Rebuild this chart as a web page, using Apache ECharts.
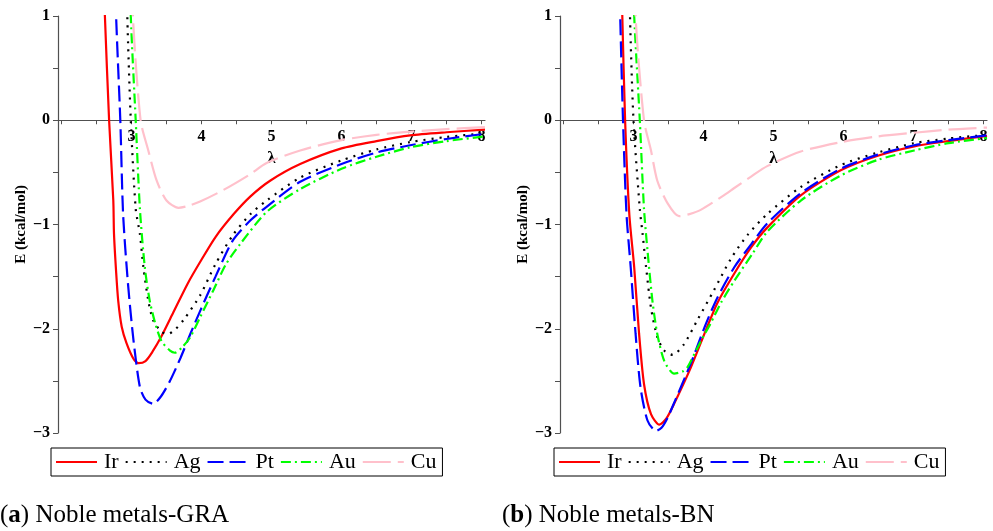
<!DOCTYPE html>
<html>
<head>
<meta charset="utf-8">
<script src="https://cdn.jsdelivr.net/npm/echarts@6/dist/echarts.min.js"></script>
<style>
  html, body { margin: 0; padding: 0; background: #fff; }
  #chart { width: 993px; height: 531px; }
</style>
</head>
<body>
<div id="chart"></div>
<script>
// metal names (legend order)
const metals = ['Ir', 'Ag', 'Pt', 'Au', 'Cu']

// axis ticks / labels
const xTicks = [2, 2.5, 3, 3.5, 4, 4.5, 5, 5.5, 6, 6.5, 7, 7.5, 8]
const xLabels = [3, 4, 5, 6, 7, 8]

// (a) Noble metals-GRA, [lambda, E]
const graIr = [[2.59, 1.6], [2.62, 1], [2.68, 0], [2.74, -0.77], [2.75, -1.09], [2.78, -1.45], [2.81, -1.73], [2.86, -1.98], [2.93, -2.14], [3.03, -2.29], [3.1, -2.33], [3.2, -2.31], [3.3, -2.22], [3.43, -2.07], [3.6, -1.84], [3.8, -1.57], [3.98, -1.36], [4.2, -1.12], [4.46, -0.9], [4.7, -0.73], [4.98, -0.58], [5.41, -0.42], [6.0, -0.27], [6.5, -0.2], [6.98, -0.145], [7.5, -0.115], [8.05, -0.09]]
const graAg = [[2.93, 1.6], [2.94, 1], [2.99, 0], [3.06, -0.85], [3.12, -1.09], [3.17, -1.41], [3.24, -1.73], [3.31, -1.92], [3.43, -2.03], [3.52, -2.05], [3.62, -2.01], [3.75, -1.91], [3.98, -1.68], [4.2, -1.38], [4.45, -1.1], [4.7, -0.9], [4.93, -0.77], [5.41, -0.55], [6.0, -0.385], [6.5, -0.28], [6.98, -0.21], [7.5, -0.16], [8.05, -0.125]]
const graPt = [[2.76, 1.6], [2.78, 1], [2.84, 0], [2.88, -0.9], [2.95, -1.57], [3.03, -2.12], [3.12, -2.56], [3.2, -2.68], [3.31, -2.72], [3.42, -2.65], [3.55, -2.5], [3.7, -2.28], [3.84, -2.05], [4.0, -1.8], [4.2, -1.5], [4.45, -1.15], [4.7, -0.96], [4.93, -0.83], [5.41, -0.59], [6.0, -0.42], [6.5, -0.31], [6.98, -0.24], [7.5, -0.18], [8.05, -0.13]]
const graAu = [[2.98, 1.6], [2.99, 1], [3.06, 0], [3.12, -0.85], [3.19, -1.41], [3.26, -1.73], [3.34, -1.95], [3.43, -2.12], [3.55, -2.21], [3.62, -2.23], [3.72, -2.18], [3.84, -2.08], [3.98, -1.89], [4.17, -1.63], [4.35, -1.38], [4.55, -1.19], [4.93, -0.88], [5.41, -0.66], [6.0, -0.465], [6.5, -0.35], [6.98, -0.26], [7.5, -0.2], [8.05, -0.155]]
const graCu = [[3.01, 1.6], [3.02, 1], [3.13, 0], [3.24, -0.29], [3.36, -0.58], [3.5, -0.77], [3.67, -0.84], [3.82, -0.82], [3.98, -0.78], [4.31, -0.67], [4.69, -0.52], [4.93, -0.41], [5.41, -0.29], [6.0, -0.19], [6.5, -0.14], [6.98, -0.11], [7.5, -0.085], [8.05, -0.065]]

// (b) Noble metals-BN
const bnIr = [[2.82, 1.6], [2.84, 1], [2.88, 0], [2.94, -0.9], [3.01, -1.41], [3.08, -2.05], [3.15, -2.53], [3.25, -2.82], [3.37, -2.92], [3.47, -2.86], [3.58, -2.72], [3.82, -2.37], [4.03, -2.02], [4.2, -1.75], [4.44, -1.47], [4.68, -1.22], [4.91, -1.03], [5.39, -0.72], [5.96, -0.48], [6.49, -0.34], [7.01, -0.25], [7.5, -0.2], [8.05, -0.15]]
const bnAg = [[2.94, 1.6], [2.95, 1], [3.0, 0], [3.09, -0.85], [3.13, -1.09], [3.18, -1.41], [3.25, -1.8], [3.34, -2.08], [3.44, -2.21], [3.56, -2.25], [3.72, -2.15], [3.91, -1.92], [4.15, -1.63], [4.39, -1.33], [4.63, -1.1], [4.91, -0.9], [5.39, -0.64], [5.96, -0.43], [6.49, -0.31], [7.01, -0.22], [7.5, -0.175], [8.05, -0.14]]
const bnPt = [[2.79, 1.6], [2.81, 1], [2.85, 0], [2.9, -0.9], [2.96, -1.41], [3.03, -2.05], [3.1, -2.56], [3.2, -2.88], [3.32, -2.98], [3.4, -2.95], [3.49, -2.85], [3.6, -2.68], [3.82, -2.33], [4.03, -1.96], [4.2, -1.7], [4.44, -1.41], [4.68, -1.19], [4.91, -0.99], [5.39, -0.7], [5.96, -0.465], [6.49, -0.33], [7.01, -0.24], [7.5, -0.19], [8.05, -0.145]]
const bnAu = [[2.99, 1.6], [3.01, 1], [3.09, 0], [3.15, -0.85], [3.2, -1.25], [3.27, -1.73], [3.34, -2.05], [3.44, -2.31], [3.58, -2.43], [3.7, -2.41], [3.77, -2.37], [3.96, -2.12], [4.1, -1.95], [4.25, -1.75], [4.44, -1.54], [4.7, -1.28], [4.91, -1.07], [5.39, -0.77], [5.96, -0.53], [6.49, -0.38], [7.01, -0.29], [7.5, -0.22], [8.05, -0.17]]
const bnCu = [[3.02, 1.6], [3.03, 1], [3.15, 0], [3.25, -0.29], [3.34, -0.58], [3.49, -0.8], [3.65, -0.92], [3.8, -0.9], [3.96, -0.86], [4.29, -0.72], [4.44, -0.65], [4.68, -0.54], [4.91, -0.44], [5.39, -0.3], [5.96, -0.21], [6.49, -0.155], [7.01, -0.12], [7.5, -0.09], [8.05, -0.07]]

const styles = {
    Ir: { color: '#ff0000', type: 'solid' },
    Ag: { color: '#000000', type: [2, 6] },
    Pt: { color: '#0000ff', type: [16, 6] },
    Au: { color: '#00ff00', type: [10, 4, 2, 4] },
    Cu: { color: '#ffc0cb', type: [28, 7] }
}

const serif = 'Liberation Serif, Times New Roman, serif'
const axisGray = '#505050'
// x axis sits on E = 0: 3/4 of the grid height above the bottom edge
const gridH = 417

const makeSeries = (name, data, idx) => ({
    name: name,
    type: 'line',
    xAxisIndex: idx,
    yAxisIndex: idx,
    data: data,
    symbol: 'none',
    smooth: 0.25,
    clip: true,
    silent: true,
    lineStyle: {
        color: styles[name].color,
        width: 2.2,
        type: styles[name].type,
        cap: 'butt'
    },
    itemStyle: { color: styles[name].color },
    z: 3
})

const makeX = idx => ({
    type: 'value',
    gridIndex: idx,
    position: 'bottom',
    offset: -gridH * 0.75,
    min: 1.95,
    max: 8.05,
    name: 'λ',
    nameLocation: 'middle',
    nameGap: 30,
    nameTextStyle: { fontFamily: serif, fontWeight: 'bold', fontSize: 17, color: '#000' },
    axisLine: { onZero: false, lineStyle: { color: axisGray, width: 1.2 } },
    axisTick: { show: true, length: 4, customValues: xTicks, lineStyle: { color: axisGray } },
    axisLabel: {
        customValues: xLabels,
        margin: 9,
        fontFamily: serif,
        fontWeight: 'bold',
        fontSize: 16,
        color: '#000'
    },
    splitLine: { show: false }
})

const makeY = idx => ({
    type: 'value',
    gridIndex: idx,
    min: -3,
    max: 1,
    interval: 0.5,
    name: 'E (kcal/mol)',
    nameLocation: 'middle',
    nameRotate: 90,
    nameGap: 28,
    nameTextStyle: { fontFamily: serif, fontWeight: 'bold', fontSize: 15, color: '#000' },
    axisLine: { show: true, onZero: false, lineStyle: { color: axisGray, width: 1.2 } },
    axisTick: { show: true, length: 5, lineStyle: { color: axisGray } },
    axisLabel: {
        margin: 8,
        fontFamily: serif,
        fontWeight: 'bold',
        fontSize: 16,
        color: '#000',
        formatter: v => (Math.round(v) === v ? (v < 0 ? '−' + (-v) : String(v)) : '')
    },
    splitLine: { show: false }
})

const makeLegend = (left) => ({
    left: left,
    top: 448,
    orient: 'horizontal',
    data: metals,
    itemWidth: 41,
    itemHeight: 14,
    itemGap: 6,
    padding: [3, 6, 3, 4],
    borderColor: '#000',
    borderWidth: 1,
    selectedMode: false,
    itemStyle: { opacity: 0 },
    textStyle: { fontFamily: serif, fontSize: 22, color: '#000', padding: [0, 0, 0, 2] }
})

const chart = echarts.init(document.getElementById('chart'), null, { renderer: 'canvas' })

const option = {
    animation: false,
    backgroundColor: '#fff',
    grid: [
        { left: 58, top: 16, width: 427, height: gridH, outerBoundsMode: 'none' },
        { left: 560, top: 16, width: 427, height: gridH, outerBoundsMode: 'none' }
    ],
    xAxis: [makeX(0), makeX(1)],
    yAxis: [makeY(0), makeY(1)],
    legend: [makeLegend(51), makeLegend(554)],
    title: [
        {
            text: '({b|a}) Noble metals-GRA',
            left: -5,
            top: 498,
            textStyle: {
                fontFamily: serif, fontSize: 25, fontWeight: 'normal', color: '#000',
                rich: { b: { fontFamily: serif, fontSize: 25, fontWeight: 'bold', color: '#000' } }
            }
        },
        {
            text: '({b|b}) Noble metals-BN',
            left: 497,
            top: 498,
            textStyle: {
                fontFamily: serif, fontSize: 25, fontWeight: 'normal', color: '#000',
                rich: { b: { fontFamily: serif, fontSize: 25, fontWeight: 'bold', color: '#000' } }
            }
        }
    ],
    series: [
        makeSeries('Ir', graIr, 0),
        makeSeries('Ag', graAg, 0),
        makeSeries('Pt', graPt, 0),
        makeSeries('Au', graAu, 0),
        makeSeries('Cu', graCu, 0),
        makeSeries('Ir', bnIr, 1),
        makeSeries('Ag', bnAg, 1),
        makeSeries('Pt', bnPt, 1),
        makeSeries('Au', bnAu, 1),
        makeSeries('Cu', bnCu, 1)
    ]
}

chart.setOption(option)
</script>
</body>
</html>
